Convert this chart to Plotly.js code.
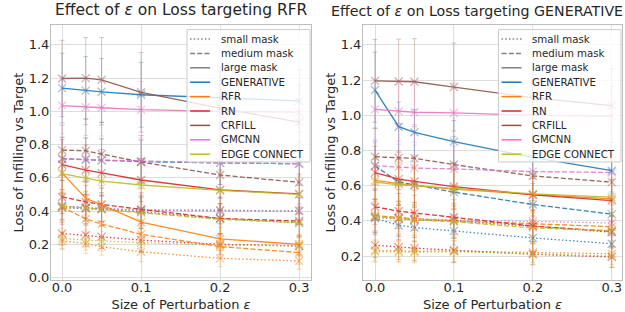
<!DOCTYPE html>
<html>
<head>
<meta charset="utf-8">
<script src="https://cdn.plot.ly/plotly-3.0.1.min.js"></script>
<style>html,body{margin:0;padding:0;background:#fff;}#chart{width:625px;height:312px;}</style>
</head>
<body>
<div id="chart"></div>
<script>
// ---------------- DATA ----------------
const eps = [0, 0.03, 0.05, 0.1, 0.2, 0.3];
const methodNames = ['GENERATIVE', 'RFR', 'RN', 'CRFILL', 'GMCNN', 'EDGE CONNECT'];
const maskNames = ['small mask', 'medium mask', 'large mask'];
const xTicks = [0, 0.1, 0.2, 0.3];

// Targeting RFR (left) — rows follow methodNames
const rfrSmall = [
  [0.43, 0.42, 0.415, 0.405, 0.405, 0.40],
  [0.22, 0.205, 0.185, 0.155, 0.115, 0.10],
  [0.265, 0.255, 0.245, 0.225, 0.20, 0.19],
  [0.42, 0.415, 0.41, 0.395, 0.355, 0.33],
  [0.425, 0.42, 0.415, 0.405, 0.40, 0.40],
  [0.235, 0.225, 0.22, 0.21, 0.195, 0.19]
];
const rfrMedium = [
  [0.715, 0.71, 0.705, 0.697, 0.69, 0.685],
  [0.425, 0.352, 0.322, 0.26, 0.186, 0.15],
  [0.485, 0.455, 0.44, 0.41, 0.355, 0.34],
  [0.767, 0.763, 0.743, 0.695, 0.617, 0.573],
  [0.713, 0.71, 0.705, 0.70, 0.69, 0.685],
  [0.43, 0.42, 0.41, 0.39, 0.35, 0.33]
];
const rfrLarge = [
  [1.14, 1.125, 1.118, 1.10, 1.08, 1.063],
  [0.63, 0.477, 0.437, 0.333, 0.232, 0.20],
  [0.68, 0.647, 0.63, 0.587, 0.527, 0.503],
  [1.198, 1.20, 1.19, 1.115, 1.02, 0.935],
  [1.035, 1.025, 1.022, 1.01, 1.0, 0.995],
  [0.625, 0.597, 0.58, 0.557, 0.525, 0.50]
];
const rfrSmallErr = [
  [0.08, 0.08, 0.08, 0.08, 0.08, 0.08],
  [0.05, 0.06, 0.05, 0.06, 0.05, 0.05],
  [0.07, 0.07, 0.07, 0.07, 0.06, 0.06],
  [0.10, 0.10, 0.10, 0.10, 0.09, 0.09],
  [0.08, 0.08, 0.08, 0.08, 0.08, 0.08],
  [0.06, 0.06, 0.06, 0.06, 0.06, 0.06]
];
const rfrMediumErr = [
  [0.13, 0.13, 0.13, 0.13, 0.13, 0.13],
  [0.08, 0.08, 0.08, 0.08, 0.07, 0.07],
  [0.10, 0.10, 0.10, 0.10, 0.09, 0.09],
  [0.15, 0.19, 0.19, 0.16, 0.14, 0.13],
  [0.13, 0.13, 0.13, 0.13, 0.13, 0.13],
  [0.10, 0.10, 0.10, 0.09, 0.09, 0.09]
];
const rfrLargeErr = [
  [0.21, 0.205, 0.20, 0.195, 0.19, 0.19],
  [0.12, 0.10, 0.10, 0.09, 0.07, 0.06],
  [0.15, 0.15, 0.14, 0.13, 0.12, 0.12],
  [0.23, 0.245, 0.255, 0.24, 0.22, 0.22],
  [0.17, 0.17, 0.17, 0.17, 0.17, 0.17],
  [0.13, 0.13, 0.12, 0.12, 0.11, 0.11]
];

// Targeting GENERATIVE (right)
const genSmall = [
  [0.415, 0.375, 0.362, 0.343, 0.303, 0.27],
  [0.232, 0.228, 0.227, 0.228, 0.222, 0.213],
  [0.262, 0.25, 0.245, 0.233, 0.21, 0.195],
  [0.42, 0.41, 0.405, 0.40, 0.37, 0.335],
  [0.425, 0.418, 0.412, 0.405, 0.398, 0.388],
  [0.225, 0.222, 0.222, 0.225, 0.212, 0.20]
];
const genMedium = [
  [0.713, 0.62, 0.605, 0.563, 0.493, 0.438],
  [0.43, 0.418, 0.412, 0.40, 0.385, 0.367],
  [0.48, 0.455, 0.445, 0.42, 0.37, 0.34],
  [0.764, 0.758, 0.755, 0.72, 0.655, 0.62],
  [0.713, 0.706, 0.70, 0.695, 0.68, 0.675],
  [0.425, 0.415, 0.405, 0.395, 0.36, 0.345]
];
const genLarge = [
  [1.143, 0.935, 0.903, 0.85, 0.76, 0.685],
  [0.63, 0.61, 0.60, 0.58, 0.55, 0.525],
  [0.674, 0.637, 0.624, 0.595, 0.547, 0.515],
  [1.195, 1.192, 1.19, 1.16, 1.10, 1.055],
  [1.033, 1.023, 1.017, 1.013, 1.0, 0.993],
  [0.62, 0.605, 0.60, 0.585, 0.553, 0.535]
];
const genSmallErr = [
  [0.08, 0.08, 0.08, 0.08, 0.08, 0.08],
  [0.06, 0.06, 0.06, 0.06, 0.06, 0.06],
  [0.07, 0.07, 0.07, 0.07, 0.06, 0.06],
  [0.10, 0.10, 0.10, 0.10, 0.09, 0.09],
  [0.08, 0.08, 0.08, 0.08, 0.08, 0.08],
  [0.06, 0.06, 0.06, 0.06, 0.06, 0.06]
];
const genMediumErr = [
  [0.14, 0.13, 0.13, 0.13, 0.12, 0.12],
  [0.09, 0.09, 0.09, 0.09, 0.08, 0.08],
  [0.10, 0.10, 0.10, 0.10, 0.09, 0.09],
  [0.16, 0.18, 0.18, 0.16, 0.14, 0.13],
  [0.13, 0.13, 0.13, 0.13, 0.13, 0.13],
  [0.10, 0.10, 0.10, 0.09, 0.09, 0.09]
];
const genLargeErr = [
  [0.215, 0.14, 0.13, 0.12, 0.12, 0.12],
  [0.12, 0.12, 0.11, 0.11, 0.10, 0.10],
  [0.15, 0.15, 0.14, 0.13, 0.12, 0.12],
  [0.235, 0.24, 0.245, 0.25, 0.22, 0.21],
  [0.17, 0.17, 0.17, 0.17, 0.17, 0.17],
  [0.13, 0.13, 0.12, 0.12, 0.11, 0.11]
];

// ---------------- STYLE ----------------
const methodColors = ['31,119,180', '255,127,14', '214,39,40', '140,86,75', '227,119,194', '188,189,34'];
const maskDash = ['1.4px,2.3px', '5px,2.2px', 'solid'];
const FONT = 'DejaVu Sans, Verdana, sans-serif';

const traces = [];
function addPanel(sets, errs, xa, ya) {
  for (let k = 0; k < 3; k++) {
    for (let m = 0; m < methodNames.length; m++) {
      const c = methodColors[m];
      traces.push({
        x: eps, y: sets[k][m], xaxis: xa, yaxis: ya,
        type: 'scatter', mode: 'lines+markers', showlegend: false,
        name: methodNames[m] + ' ' + maskNames[k],
        line: {color: 'rgba(' + c + ',0.9)', width: 1.3, dash: maskDash[k]},
        marker: {symbol: 'x-thin', size: 8, color: 'rgba(' + c + ',0.45)',
                 line: {width: 1.3, color: 'rgba(' + c + ',0.45)'}},
        error_y: {type: 'data', array: errs[k][m], visible: true,
                  color: 'rgba(' + c + ',0.32)', thickness: 1, width: 2.5}
      });
    }
  }
}
addPanel([rfrSmall, rfrMedium, rfrLarge], [rfrSmallErr, rfrMediumErr, rfrLargeErr], 'x', 'y');
addPanel([genSmall, genMedium, genLarge], [genSmallErr, genMediumErr, genLargeErr], 'x2', 'y2');

// legend (custom, compact like matplotlib)
const legendLabels = maskNames.concat(methodNames);
const legendColors = ['128,128,128', '128,128,128', '128,128,128'].concat(methodColors);
const legendDash = maskDash.concat(methodNames.map(() => 'solid'));

const shapes = [];
const annotations = [];
const H = 255; // plot height px
[['x', 'y'], ['x2', 'y2']].forEach(([xa, ya]) => {
  shapes.push({type: 'rect', xref: xa + ' domain', yref: ya + ' domain', layer: 'above',
    x0: 0.523, x1: 0.996, y0: 0.463, y1: 0.982,
    fillcolor: 'rgba(255,255,255,0.8)', line: {color: 'rgba(204,204,204,1)', width: 1}});
  legendLabels.forEach((lab, i) => {
    const yc = 1 - (14 + 14.4 * i) / H;
    shapes.push({type: 'line', xref: xa + ' domain', yref: ya + ' domain', layer: 'above',
      x0: 0.535, x1: 0.612, y0: yc, y1: yc,
      line: {color: 'rgb(' + legendColors[i] + ')', width: 1.5, dash: legendDash[i]}});
    annotations.push({xref: xa + ' domain', yref: ya + ' domain', x: 0.645, y: yc,
      xanchor: 'left', yanchor: 'middle', showarrow: false, text: lab,
      font: {family: FONT, size: 10.2, color: '#262626'}});
  });
});
// subplot titles
annotations.push({xref: 'x domain', yref: 'y domain', x: 0.5, y: 1, yshift: 4, xanchor: 'center', yanchor: 'bottom',
  showarrow: false, text: 'Effect of <i>ε</i> on Loss targeting RFR', font: {family: FONT, size: 15.5, color: '#262626'}});
annotations.push({xref: 'x2 domain', yref: 'y2 domain', x: 0.44, y: 1, yshift: 4, xanchor: 'center', yanchor: 'bottom',
  showarrow: false, text: 'Effect of <i>ε</i> on Loss targeting GENERATIVE', font: {family: FONT, size: 14.2, color: '#262626'}});

const axCommon = {
  showgrid: true, gridcolor: '#dedede', gridwidth: 1, zeroline: false,
  showline: true, mirror: true, linecolor: '#bdbdbd', linewidth: 1,
  ticks: '', tickfont: {family: FONT, size: 13, color: '#262626'}
};
const xCommon = Object.assign({}, axCommon, {tickvals: xTicks, tickformat: '.1f', ticklabelstandoff: -5,
  title: {text: 'Size of Perturbation <i>ε</i>', font: {family: FONT, size: 13, color: '#262626'}, standoff: 9}});
const yCommon = Object.assign({}, axCommon, {dtick: 0.2, tick0: 0, tickformat: '.1f', ticklabelstandoff: -2,
  title: {text: 'Loss of Infilling vs Target', font: {family: FONT, size: 13, color: '#262626'}, standoff: 2}});

const layout = {
  width: 625, height: 312,
  margin: {l: 0, r: 0, t: 0, b: 0},
  paper_bgcolor: '#ffffff', plot_bgcolor: '#ffffff',
  showlegend: false,
  font: {family: FONT, color: '#262626'},
  xaxis: Object.assign({}, xCommon, {domain: [51 / 625, 311 / 625], range: [-0.014, 0.315], anchor: 'y'}),
  yaxis: Object.assign({}, yCommon, {domain: [32 / 312, 287 / 312], range: [-0.015, 1.52], anchor: 'x'}),
  xaxis2: Object.assign({}, xCommon, {domain: [363 / 625, 622 / 625], range: [-0.0152, 0.313], anchor: 'y2'}),
  yaxis2: Object.assign({}, yCommon, {domain: [32 / 312, 287 / 312], range: [0.064, 1.5125], anchor: 'x2'}),
  shapes: shapes,
  annotations: annotations
};

Plotly.newPlot('chart', traces, layout, {staticPlot: true, displayModeBar: false});
</script>
</body>
</html>
